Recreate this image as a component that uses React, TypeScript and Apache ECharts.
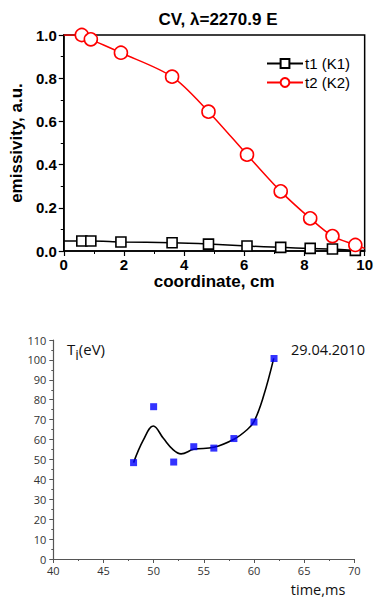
import React, { useEffect, useRef } from "react";
import * as echarts from "echarts";

// Top chart (emissivity profiles)
const coordX = [0.6, 0.9, 1.9, 3.6, 4.81, 6.09, 7.21, 8.19, 8.93, 9.69];
const t1Values = [0.046, 0.046, 0.042, 0.038, 0.032, 0.023, 0.017, 0.012, 0.009, 0.003];
const t2Values = [1.0, 0.98, 0.918, 0.807, 0.645, 0.446, 0.276, 0.151, 0.069, 0.028];
const t1Ends = [[0, 0.046], [10, 0.002]];
const t2Ends = [[0, 1.0], [10, 0.012]];

// Bottom chart (ion temperature)
const timeMs = [48, 50, 52, 54, 56, 58, 60, 62];
const tiValues = [48.4, 76.5, 48.7, 56.4, 55.7, 60.5, 68.8, 100.7];
const fitTime = [48, 48.98, 49.97, 50.97, 51.96, 52.73, 54.0, 56.0, 58.05, 59.28, 60.0, 60.94, 61.97];
const fitTi = [48.4, 59.8, 66.8, 60.6, 54.8, 52.8, 55.1, 56.1, 60.3, 64.8, 69.0, 81.6, 100.8];

const topXTicks = [0, 2, 4, 6, 8, 10];

function withEnds(xs: number[], ys: number[], ends: number[][]) {
  const pts: any[] = xs.map((x, i) => ({ value: [x, ys[i]] }));
  return [
    { value: ends[0], symbol: "none" },
    ...pts,
    { value: ends[1], symbol: "none" },
  ];
}

export default function App() {
  const ref = useRef<HTMLDivElement>(null);
  useEffect(() => {
    if (!ref.current) return;
    const chart = echarts.init(ref.current, null, { renderer: "svg" });
    const boldFont = "'Liberation Sans', Arial, sans-serif";
    const sansFont = "'Open Sans', sans-serif";
    chart.setOption({
      animation: false,
      title: [
        {
          text: "CV, λ=2270.9 E",
          left: 213,
          top: 6,
          textAlign: "center",
          textStyle: { fontFamily: boldFont, fontWeight: "bold", fontSize: 17, color: "#000" },
        },
        {
          text: "T{s|i}(eV)",
          left: 62,
          top: 332,
          textStyle: {
            fontFamily: sansFont,
            fontWeight: "normal",
            fontSize: 15,
            color: "#111",
            rich: { s: { fontFamily: sansFont, fontSize: 14, color: "#111", padding: [10, 0, 0, 0] } },
          },
        },
        {
          text: "29.04.2010",
          left: 286,
          top: 337,
          textStyle: { fontFamily: sansFont, fontWeight: "normal", fontSize: 14.5, color: "#111" },
        },
      ],
      legend: {
        data: ["t1 (K1)", "t2 (K2)"],
        orient: "vertical",
        left: 261,
        top: 51,
        itemWidth: 36,
        itemHeight: 11,
        itemGap: 4,
        textStyle: { fontFamily: boldFont, fontSize: 15, color: "#000", padding: [0, 0, 0, -3] },
      },
      grid: [
        { left: 56, top: 35, width: 314, height: 216, show: true, borderColor: "#000", borderWidth: 1.5, backgroundColor: "transparent" },
        { left: 53.3, top: 340, width: 301, height: 219 },
      ],
      xAxis: [
        {
          gridIndex: 0,
          type: "value",
          min: 0,
          max: 10,
          interval: 2,
          name: "coordinate, cm",
          nameLocation: "middle",
          nameGap: 19,
          nameTextStyle: { fontFamily: boldFont, fontWeight: "bold", fontSize: 17, color: "#000" },
          axisLine: { show: true, onZero: false, lineStyle: { color: "#000", width: 1.5 } },
          axisTick: { show: true, inside: false, length: 5, lineStyle: { color: "#000", width: 1.2 } },
          minorTick: { show: true, splitNumber: 2, length: 3, lineStyle: { color: "#000", width: 1 } },
          axisLabel: {
            margin: 6,
            fontFamily: boldFont,
            fontWeight: "bold",
            fontSize: 15,
            color: "#000",
            customValues: topXTicks,
          },
          splitLine: { show: false },
        },
        {
          gridIndex: 1,
          type: "value",
          min: 40,
          max: 70,
          interval: 5,
          name: "time,ms",
          nameLocation: "end",
          axisLine: { show: true, onZero: false, lineStyle: { color: "#555", width: 1.2 } },
          axisTick: { show: true, inside: false, length: 4, lineStyle: { color: "#555", width: 1 } },
          minorTick: { show: true, splitNumber: 2, length: 2, lineStyle: { color: "#555", width: 1 } },
          axisLabel: { margin: 6, fontFamily: sansFont, fontSize: 11, color: "#333" },
          nameTextStyle: { fontFamily: sansFont, fontSize: 14.5, color: "#111", align: "right", verticalAlign: "top", padding: [23, 9, 0, 0] },
          nameGap: 0,
          splitLine: { show: false },
        },
      ],
      yAxis: [
        {
          gridIndex: 0,
          type: "value",
          min: 0,
          max: 1,
          interval: 0.2,
          name: "emissivity, a.u.",
          nameLocation: "middle",
          nameRotate: 90,
          nameGap: 36,
          nameTextStyle: { fontFamily: boldFont, fontWeight: "bold", fontSize: 17, color: "#000" },
          axisLine: { show: true, onZero: false, lineStyle: { color: "#000", width: 1.5 } },
          axisTick: { show: true, inside: false, length: 5, lineStyle: { color: "#000", width: 1.2 } },
          minorTick: { show: true, splitNumber: 2, length: 3, lineStyle: { color: "#000", width: 1 } },
          axisLabel: {
            margin: 7,
            fontFamily: boldFont,
            fontWeight: "bold",
            fontSize: 15,
            color: "#000",
            formatter: (v: number) => v.toFixed(1),
          },
          splitLine: { show: false },
        },
        {
          gridIndex: 1,
          type: "value",
          min: 0,
          max: 110,
          interval: 10,
          axisLine: { show: true, onZero: false, lineStyle: { color: "#555", width: 1.2 } },
          axisTick: { show: true, inside: false, length: 4, lineStyle: { color: "#555", width: 1 } },
          minorTick: { show: true, splitNumber: 2, length: 2, lineStyle: { color: "#555", width: 1 } },
          axisLabel: { margin: 7, fontFamily: sansFont, fontSize: 11, color: "#333" },
          splitLine: { show: false },
        },
      ],
      series: [
        {
          name: "t1 (K1)",
          type: "line",
          xAxisIndex: 0,
          yAxisIndex: 0,
          data: withEnds(coordX, t1Values, t1Ends),
          smooth: 0.3,
          symbol: "rect",
          symbolSize: 10,
          itemStyle: { color: "#fff", borderColor: "#000", borderWidth: 1.6 },
          lineStyle: { color: "#000", width: 1.5 },
          z: 3,
        },
        {
          name: "t2 (K2)",
          type: "line",
          xAxisIndex: 0,
          yAxisIndex: 0,
          data: withEnds(coordX, t2Values, t2Ends),
          smooth: 0.3,
          symbol: "circle",
          symbolSize: 13,
          itemStyle: { color: "#fff", borderColor: "#ff0000", borderWidth: 1.6 },
          lineStyle: { color: "#ff0000", width: 1.5 },
          z: 4,
        },
        {
          name: "fit",
          type: "line",
          xAxisIndex: 1,
          yAxisIndex: 1,
          data: fitTime.map((t, i) => [t, fitTi[i]]),
          smooth: 0.4,
          showSymbol: false,
          symbol: "none",
          lineStyle: { color: "#000", width: 1.6 },
          z: 2,
        },
        {
          name: "Ti",
          type: "scatter",
          xAxisIndex: 1,
          yAxisIndex: 1,
          data: timeMs.map((t, i) => [t, tiValues[i]]),
          symbol: "rect",
          symbolSize: 7,
          itemStyle: { color: "#0000ff" },
          z: 3,
        },
      ],
    });
    return () => chart.dispose();
  }, []);
  return (
    <div
      ref={ref}
      style={{ position: "absolute", left: 0, top: 0, width: 376, height: 598, background: "#fff" }}
    />
  );
}
